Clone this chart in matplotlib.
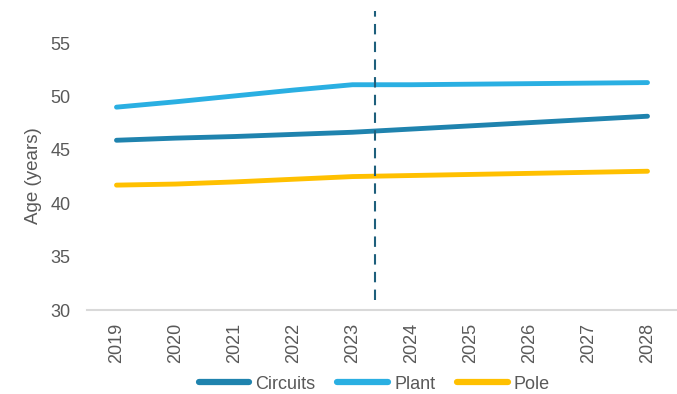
import matplotlib
matplotlib.use("Agg")
import matplotlib.pyplot as plt

matplotlib.rc("font", family="Liberation Sans")

years = ["2019", "2020", "2021", "2022", "2023", "2024", "2025", "2026", "2027", "2028"]
circuits = [45.9, 46.1, 46.25, 46.45, 46.65, 46.95, 47.25, 47.55, 47.85, 48.15]
plant = [49.0, 49.5, 50.05, 50.6, 51.1, 51.1, 51.15, 51.2, 51.25, 51.3]
pole = [41.7, 41.8, 42.0, 42.25, 42.5, 42.6, 42.7, 42.8, 42.9, 43.0]
split_year = 4.38  # position of the dashed marker, in category units

grey = "#595959"

fig = plt.figure(figsize=(6.77, 3.94), dpi=100)
ax = fig.add_axes([0.1285, 0.213, 0.8715, 0.759])

x = list(range(len(years)))
ax.plot(x, circuits, color="#1F83AE", lw=3.5, solid_capstyle="round", label="Circuits")
ax.plot(x, plant, color="#2AAFE2", lw=3.5, solid_capstyle="round", label="Plant")
ax.plot(x, pole, color="#FFC000", lw=3.5, solid_capstyle="round", label="Pole")
ax.plot([split_year, split_year], [30.9, 58], color="#1E5F7C", lw=1.5,
        linestyle=(0, (5, 3.5)))

ax.set_xlim(-0.5, len(years) - 0.5)
ax.set_ylim(30, 58)
ax.set_yticks([30, 35, 40, 45, 50, 55])
ax.set_xticks(x)
ax.set_xticklabels(years, rotation=90)
ax.tick_params(axis="both", length=0, colors=grey, labelsize=13)
ax.tick_params(axis="x", pad=9)
ax.tick_params(axis="y", pad=12)
for side in ["left", "right", "top"]:
    ax.spines[side].set_visible(False)
ax.spines["bottom"].set_color("#D9D9D9")
ax.spines["bottom"].set_linewidth(1.5)

ax.set_ylabel("Age (years)", color=grey, fontsize=13.5)
ax.yaxis.set_label_coords(-0.076, 0.448)

leg = ax.legend(loc="center", bbox_to_anchor=(0.487, -0.248), ncol=3,
                frameon=False, fontsize=13, handlelength=2.8, handletextpad=0.35,
                columnspacing=1.2, borderpad=0.2)
for t in leg.get_texts():
    t.set_color(grey)
for h in leg.get_lines():
    h.set_linewidth(4.5)

fig.savefig("out.png", dpi=100)
